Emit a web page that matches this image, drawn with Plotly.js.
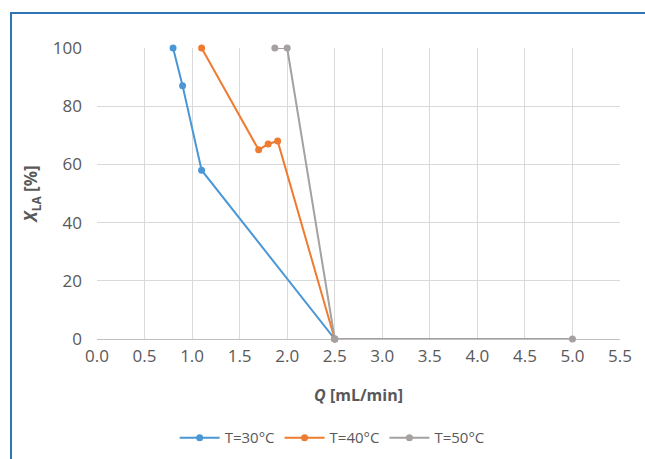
<!DOCTYPE html>
<html>
<head>
<meta charset="utf-8">
<script src="https://cdn.plot.ly/plotly-3.0.1.min.js"></script>
<style>
html,body{margin:0;padding:0;background:#fff;}
#wrap{position:relative;width:645px;height:459px;overflow:hidden;}
#frame{position:absolute;left:10px;top:12px;right:-5px;bottom:-5px;border-left:2px solid #2e75b6;border-top:2px solid #2e75b6;pointer-events:none;z-index:5;}
#chart{position:absolute;left:0;top:0;width:645px;height:459px;}
</style>
</head>
<body>
<div id="wrap"><div id="chart"></div><div id="frame"></div></div>
<script>
// Data
const seriesNames = ["T=30°C", "T=40°C", "T=50°C"];
const q30 = [0.8, 0.9, 1.1, 2.5];
const x30 = [100, 87, 58, 0];
const q40 = [1.1, 1.7, 1.8, 1.9, 2.5];
const x40 = [100, 65, 67, 68, 0];
const q50 = [1.87, 2.0, 2.5, 5.0];
const x50 = [100, 100, 0, 0];
const colors = ["#4b97d6", "#ee7b30", "#a5a1a0"];
const xTickVals = [0, 0.5, 1, 1.5, 2, 2.5, 3, 3.5, 4, 4.5, 5, 5.5];
const xTickText = ["0.0","0.5","1.0","1.5","2.0","2.5","3.0","3.5","4.0","4.5","5.0","5.5"];

const qs = [q30, q40, q50];
const xs = [x30, x40, x50];
const traces = seriesNames.map((n, i) => ({
  x: qs[i], y: xs[i], name: n, type: 'scatter', mode: 'lines+markers',
  cliponaxis: false,
  line: {color: colors[i], width: 2},
  marker: {color: colors[i], size: 7}
}));

const font = {family: "'Open Sans', 'Liberation Sans', sans-serif", color: '#595959', size: 14};
const layout = {
  width: 645, height: 459,
  margin: {l: 97, r: 25, t: 48, b: 120, autoexpand: false},
  paper_bgcolor: '#ffffff', plot_bgcolor: '#ffffff',
  font: font,
  showlegend: true,
  legend: {orientation: 'h', xref: 'container', yref: 'container', x: 0.515, xanchor: 'center', y: 0.046, yanchor: 'middle',
           font: {size: 15, color: '#595959', family: font.family}, itemwidth: 40, tracegroupgap: 0},
  xaxis: {
    automargin: false,
    range: [0, 5.5], tickvals: xTickVals, ticktext: xTickText,
    showgrid: true, gridcolor: '#d9d9d9', gridwidth: 1,
    zeroline: false, showline: false, ticks: '',
    tickfont: {size: 17, color: '#595959'},
    ticklabelstandoff: 5,
    title: {text: '<b><i>Q</i> [mL/min]</b>', font: {size: 16, color: '#595959'}, standoff: 23}
  },
  yaxis: {
    automargin: false,
    range: [0, 100], tickvals: [0, 20, 40, 60, 80, 100],
    showgrid: true, gridcolor: '#d9d9d9', gridwidth: 1,
    zeroline: true, zerolinecolor: '#bfbfbf', zerolinewidth: 1,
    showline: false, ticks: '',
    tickfont: {size: 17, color: '#595959'},
    ticklabelstandoff: 14,
    title: {text: '<b><i>X</i><sub>LA</sub> [%]</b>', font: {size: 17, color: '#595959'}, standoff: 10}
  }
};
Plotly.newPlot('chart', traces, layout, {displayModeBar: false, staticPlot: true});
</script>
</body>
</html>
